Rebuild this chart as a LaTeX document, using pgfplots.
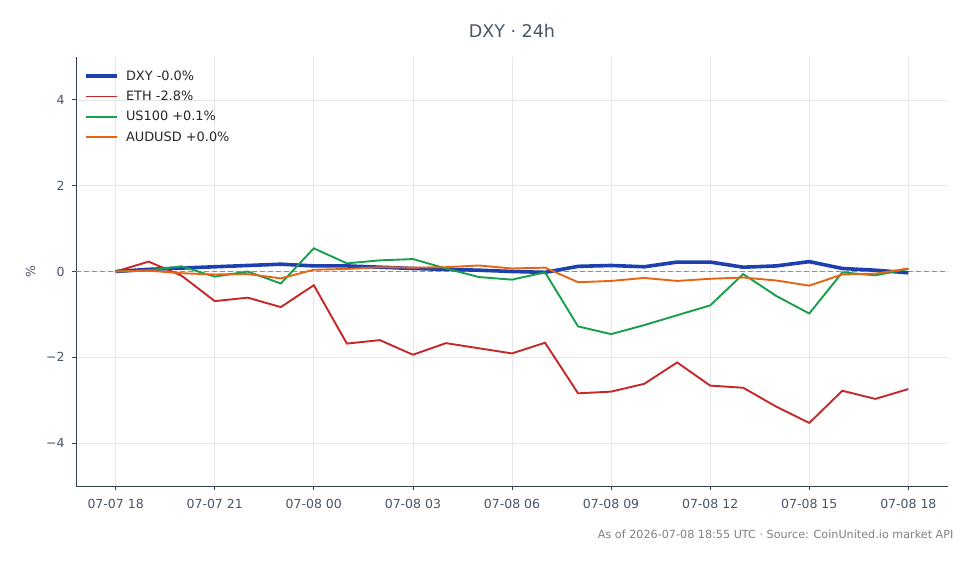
\documentclass[border=0pt]{standalone}
\usepackage{pgfplots}
\pgfplotsset{compat=1.18}
\usepackage{fontspec}
\setmainfont{DejaVu Sans}
\definecolor{cDXY}{RGB}{30,64,175}
\definecolor{cETH}{RGB}{198,40,40}
\definecolor{cUS}{RGB}{22,160,75}
\definecolor{cAUD}{RGB}{230,100,20}
\definecolor{txt}{RGB}{71,85,105}
\definecolor{spine}{RGB}{51,65,85}
\definecolor{gridc}{RGB}{229,231,235}
\definecolor{zeroc}{RGB}{130,145,170}
\begin{document}
\begin{tikzpicture}[x=1pt,y=1pt]
\path[use as bounding box] (0,0) rectangle (980,564);
\begin{axis}[
  at={(76pt,78pt)}, anchor=south west,
  scale only axis, width=872pt, height=429pt,
  xmin=-1.2, xmax=25.2, ymin=-5, ymax=5,
  axis x line*=bottom, axis y line*=left,
  axis line style={-, spine, line width=0.9pt},
  xtick={0,3,6,9,12,15,18,21,24},
  xticklabels={07-07 18,07-07 21,07-08 00,07-08 03,07-08 06,07-08 09,07-08 12,07-08 15,07-08 18},
  ytick={-4,-2,0,2,4},
  yticklabels={−4,−2,0,2,4},
  tick align=outside, major tick length=4pt,
  tick style={spine, line width=0.8pt},
  ticklabel style={font=\fontsize{12.5}{14}\selectfont, text=txt},
  xticklabel style={yshift=-6pt},
  yticklabel style={xshift=-4pt},
  grid=major, major grid style={gridc, line width=0.7pt},
  ylabel={\%},
  ylabel style={at={(axis description cs:-0.052,0.5)}, anchor=center, rotate=0, font=\fontsize{12.5}{14}\selectfont, text=txt},
  title={DXY · 24h},
  title style={at={(axis description cs:0.5,1)}, anchor=center, yshift=20pt, font=\fontsize{17.5}{20}\selectfont, text=txt},
  legend style={at={(axis description cs:0.006,0.978)}, anchor=north west, draw=none, fill=none,
    font=\fontsize{12.9}{14}\selectfont, text=black!85, row sep=5.3pt,
    /tikz/every odd column/.append style={column sep=5pt}},
  legend cell align=left,
  legend image code/.code={\draw[#1] (0pt,0pt) -- (31pt,0pt);},
]
\addplot[zeroc, line width=0.9pt, dash pattern=on 5pt off 3pt, forget plot] coordinates {(-1.2,0) (25.2,0)};
\addplot[cDXY, line width=3.6pt] coordinates {
(0,0) (1,0.05) (2,0.08) (3,0.11) (4,0.14) (5,0.17) (6,0.13) (7,0.13) (8,0.10) (9,0.07) (10,0.05) (11,0.03) (12,0.00) (13,-0.02) (14,0.12) (15,0.14) (16,0.11) (17,0.22) (18,0.22) (19,0.10) (20,0.13) (21,0.23) (22,0.07) (23,0.03) (24,-0.03)};
\addlegendentry{DXY -0.0\%}
\addplot[cETH, line width=1.9pt] coordinates {
(0,0) (1,0.23) (2,-0.10) (3,-0.69) (4,-0.61) (5,-0.83) (6,-0.32) (7,-1.68) (8,-1.60) (9,-1.94) (10,-1.67) (11,-1.79) (12,-1.91) (13,-1.66) (14,-2.84) (15,-2.80) (16,-2.62) (17,-2.12) (18,-2.66) (19,-2.71) (20,-3.15) (21,-3.53) (22,-2.78) (23,-2.97) (24,-2.74)};
\addlegendentry{ETH -2.8\%}
\addplot[cUS, line width=1.9pt] coordinates {
(0,0) (1,0.03) (2,0.12) (3,-0.12) (4,0.00) (5,-0.28) (6,0.54) (7,0.19) (8,0.26) (9,0.29) (10,0.07) (11,-0.13) (12,-0.19) (13,-0.02) (14,-1.28) (15,-1.46) (16,-1.25) (17,-1.02) (18,-0.79) (19,-0.06) (20,-0.57) (21,-0.98) (22,-0.02) (23,-0.09) (24,0.06)};
\addlegendentry{US100 +0.1\%}
\addplot[cAUD, line width=1.9pt] coordinates {
(0,0) (1,0.02) (2,-0.04) (3,-0.07) (4,-0.06) (5,-0.16) (6,0.04) (7,0.06) (8,0.10) (9,0.09) (10,0.10) (11,0.14) (12,0.07) (13,0.09) (14,-0.25) (15,-0.22) (16,-0.15) (17,-0.22) (18,-0.17) (19,-0.14) (20,-0.21) (21,-0.33) (22,-0.07) (23,-0.05) (24,0.07)};
\addlegendentry{AUDUSD +0.0\%}
\end{axis}
\node[anchor=east, font=\fontsize{11.2}{13}\selectfont, text=black!50] at (957,30) {As of 2026-07-08 18:55 UTC · Source: CoinUnited.io market API};
\end{tikzpicture}
\end{document}
